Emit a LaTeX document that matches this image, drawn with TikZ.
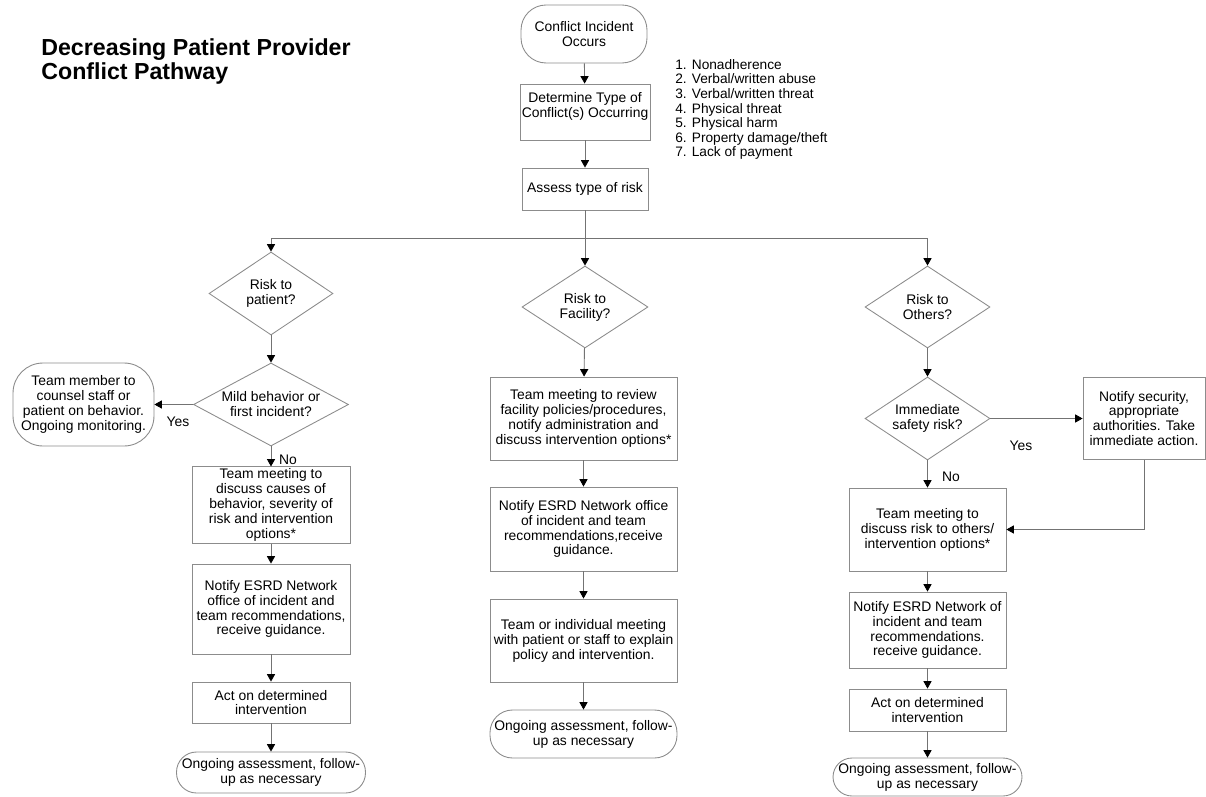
\documentclass[tikz,border=0pt]{standalone}
\usepackage{fontspec}
\setmainfont{Liberation Sans}
\usepackage{tikz}
\usetikzlibrary{shapes.geometric,arrows.meta,positioning}
\newcommand{\boxfont}{\fontsize{7.9}{8.5}\selectfont}
\tikzstyle{box} = [draw=black!45, line width=0.5pt, fill=white, align=center, inner sep=1pt, font=\boxfont]
\tikzstyle{term} = [box, rounded corners=0.45cm]
\tikzstyle{decision} = [diamond, aspect=1.5, draw=black!45, line width=0.5pt, align=center, inner sep=0pt, font=\boxfont]
\tikzstyle{line} = [draw=black!55, line width=0.5pt, -{Triangle[width=4.6pt,length=4.2pt,color=black]}]
\tikzstyle{plain} = [draw=black!55, line width=0.5pt]
\tikzstyle{lab} = [inner sep=0pt, font=\boxfont]

\begin{document}
\begin{tikzpicture}[x=0.02cm,y=-0.02cm]
		\useasboundingbox (0,0) rectangle (1206,797);
		
		\node[anchor=west, align=left, inner sep=0pt, font=\fontsize{13.2}{14.2}\selectfont\bfseries] (title) at (41,61.5) {Decreasing Patient Provider\\Conflict Pathway}; % title
		
		% top part
		\node[term, rounded corners=0.5cm, minimum width=2.52cm, minimum height=1.16cm] (start) at (584,34) {Conflict Incident\\Occurs};
		\node[box, minimum width=2.52cm, minimum height=1.12cm] (determine) at (585,112) {Determine Type of\\Conflict(s) Occurring\\\mbox{}};
		\node[anchor=north west, align=left, inner sep=0pt, font=\fontsize{7.8}{8.3}\selectfont] (types) at (675,59) {1. Nonadherence\\2. Verbal/written abuse\\3. Verbal/written threat\\4. Physical threat\\5. Physical harm\\6. Property damage/theft\\7. Lack of payment}; % list of conflicts
		\node[box, minimum width=2.52cm, minimum height=0.84cm] (assess) at (585,189) {Assess type of risk};
		
		\coordinate (split) at (585,238);
		\coordinate (splitL) at (271,238);
		\coordinate (splitR) at (927.5,238);
		
		% left column: patient
		\node[decision, minimum width=2.48cm, minimum height=1.66cm] (riskP) at (271,293.5) {Risk to\\patient?};
		\node[decision, aspect=1.87, minimum width=3.1cm, minimum height=1.66cm] (mild) at (271,404.5) {Mild behavior or\\first incident?};
		\node[term, rounded corners=0.6cm, minimum width=2.82cm, minimum height=1.66cm] (member) at (83.5,404.5) {Team member to\\counsel staff or\\patient on behavior.\\Ongoing monitoring.};
		\node[box, minimum width=3.16cm, minimum height=1.52cm] (meetP) at (271,505) {Team meeting to\\discuss causes of\\behavior, severity of\\risk and intervention\\options*};
		\node[box, minimum width=3.16cm, minimum height=1.8cm] (notifyP) at (271,609) {Notify ESRD Network\\office of incident and\\team recommendations,\\receive guidance.};
		\node[box, minimum width=3.16cm, minimum height=0.82cm] (actP) at (271,702.5) {Act on determined\\intervention};
		\node[term, rounded corners=0.4cm, minimum width=3.78cm, minimum height=0.82cm] (doneP) at (271,772.5) {Ongoing assessment, follow-\\up as necessary};
		
		% middle column: facility
		\node[decision, minimum width=2.52cm, minimum height=1.64cm] (riskF) at (585,307) {Risk to\\Facility?};
		\node[box, minimum width=3.74cm, minimum height=1.66cm] (meetF) at (583.5,418.5) {Team meeting to review\\facility policies/procedures,\\notify administration and\\discuss intervention options*};
		\node[box, minimum width=3.74cm, minimum height=1.68cm] (notifyF) at (583.5,529) {Notify ESRD Network office\\of incident and team\\recommendations,receive\\guidance.};
		\node[box, minimum width=3.74cm, minimum height=1.66cm] (explainF) at (583.5,640.5) {Team or individual meeting\\with patient or staff to explain\\policy and intervention.};
		\node[term, minimum width=3.74cm, minimum height=0.96cm] (doneF) at (583.5,734) {Ongoing assessment, follow-\\up as necessary};
		
		% right column: others
		\node[decision, minimum width=2.5cm, minimum height=1.64cm] (riskO) at (927.5,307) {Risk to\\Others?};
		\node[decision, minimum width=2.5cm, minimum height=1.66cm] (safety) at (927.5,418.5) {Immediate\\safety risk?};
		\node[box, minimum width=2.44cm, minimum height=1.64cm] (secure) at (1144,418.5) {Notify security,\\appropriate\\authorities. Take\\immediate action.};
		\node[box, minimum width=3.14cm, minimum height=1.66cm] (meetO) at (927.5,529.5) {Team meeting to\\discuss risk to others/\\intervention options*};
		\node[box, minimum width=3.14cm, minimum height=1.52cm] (notifyO) at (927.5,630) {Notify ESRD Network of\\incident and team\\recommendations.\\receive guidance.};
		\node[box, minimum width=3.14cm, minimum height=0.84cm] (actO) at (927.5,710) {Act on determined\\intervention};
		\node[term, rounded corners=0.38cm, minimum width=3.78cm, minimum height=0.76cm] (doneO) at (927.5,777) {Ongoing assessment, follow-\\up as necessary};
		
		% labels
		\node[lab] (yesP) at (178,422) {Yes};
		\node[lab] (noP) at (288,460) {No};
		\node[lab] (yesO) at (1021,446) {Yes};
		\node[lab] (noO) at (951,477) {No};
		
		% connectors
		\draw[line] (start) -- (determine);
		\draw[line] (determine) -- (assess);
		\draw[plain] (assess) -- (split); % down to split
		\draw[plain] (splitL) -- (splitR); % horizontal split
		\draw[line] (splitL) -- (riskP);
		\draw[line] (split) -- (riskF);
		\draw[line] (splitR) -- (riskO);
		
		\draw[line] (riskP) -- (mild);
		\draw[line] (mild) -- (member); % yes
		\draw[line] (mild) -- (meetP); % no
		\draw[line] (meetP) -- (notifyP);
		\draw[line] (notifyP) -- (actP);
		\draw[line] (actP) -- (doneP);
		
		\draw[line] (riskF) -- (meetF);
		\draw[line] (meetF) -- (notifyF);
		\draw[line] (notifyF) -- (explainF);
		\draw[line] (explainF) -- (doneF);
		
		\draw[line] (riskO) -- (safety);
		\draw[line] (safety) -- (secure); % yes
		\draw[line] (safety) -- (meetO); % no
		\draw[line] (secure.south) |- (meetO.east); % back to meeting
		\draw[line] (meetO) -- (notifyO);
		\draw[line] (notifyO) -- (actO);
		\draw[line] (actO) -- (doneO);
		
\end{tikzpicture}
\end{document}
